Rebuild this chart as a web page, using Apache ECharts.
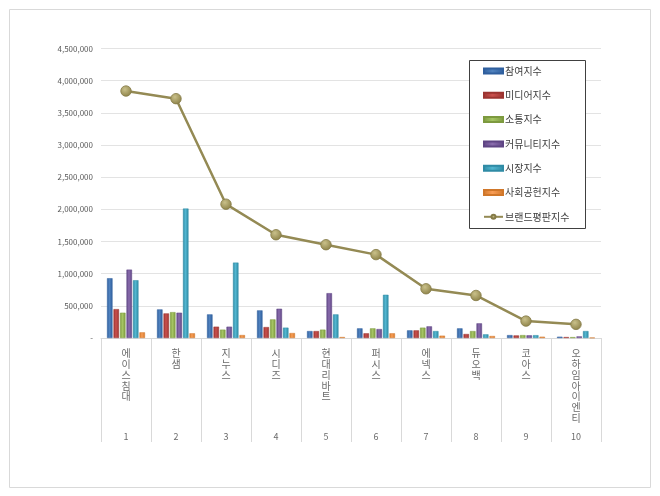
<!DOCTYPE html>
<html>
<head>
<meta charset="utf-8">
<script src="https://cdn.jsdelivr.net/npm/echarts@6/dist/echarts.min.js"></script>
<style>
html, body { margin: 0; padding: 0; background: #fff; }
#chart { width: 660px; height: 496px; }
</style>
</head>
<body>
<div id="chart"></div>
<script>
var categories = ['에이스침대', '한샘', '지누스', '시디즈', '현대리바트', '퍼시스', '에넥스', '듀오백', '코아스', '오하임아이엔티'];
var ranks = ['1', '2', '3', '4', '5', '6', '7', '8', '9', '10'];
var seriesNames = ['참여지수', '미디어지수', '소통지수', '커뮤니티지수', '시장지수', '사회공헌지수', '브랜드평판지수'];

var participation = [929000, 444000, 367000, 429000, 108000, 150000, 119000, 150000, 45000, 20000];
var media = [449000, 382000, 176000, 170000, 108000, 73000, 119000, 62000, 40000, 15000];
var communication = [393000, 402000, 130000, 289000, 130000, 150000, 161000, 108000, 45000, 14000];
var community = [1063000, 393000, 176000, 455000, 697000, 139000, 181000, 228000, 42000, 25000];
var market = [898000, 2012000, 1172000, 161000, 367000, 672000, 108000, 57000, 44000, 108000];
var social = [88000, 73000, 46000, 77000, 15000, 73000, 36000, 31000, 20000, 5000];
var brand = [3839000, 3720000, 2080000, 1605000, 1450000, 1296000, 765000, 661000, 263000, 212000];

(function () {
    var myChart = echarts.init(document.getElementById('chart'));
    var font = '"Noto Sans CJK KR", "Noto Sans", sans-serif';

    // edge / middle colours for the excel-like bars
    var barColors = [
        ['#2f5f9e', '#4f81bd'],
        ['#9c3431', '#c9504d'],
        ['#7d9a3f', '#a5c563'],
        ['#5f4584', '#8a6cad'],
        ['#2f8ba5', '#52b6d0'],
        ['#d0772a', '#f99d55']
    ];
    var barData = [participation, media, communication, community, market, social];

    var series = [];
    for (var i = 0; i < barData.length; i++) {
        series.push({
            name: seriesNames[i],
            type: 'bar',
            barWidth: 5.5,
            barGap: '18%',
            itemStyle: {
                color: new echarts.graphic.LinearGradient(0, 0, 1, 0, [
                    { offset: 0, color: barColors[i][0] },
                    { offset: 0.45, color: barColors[i][1] },
                    { offset: 1, color: barColors[i][0] }
                ]),
                borderColor: barColors[i][0],
                borderWidth: 0.5
            },
            data: barData[i]
        });
    }
    series.push({
        name: seriesNames[6],
        type: 'line',
        symbol: 'circle',
        symbolSize: 10.5,
        lineStyle: { color: '#948a54', width: 2.5 },
        itemStyle: {
            color: new echarts.graphic.RadialGradient(0.4, 0.35, 0.7, [
                { offset: 0, color: '#c9c08a' },
                { offset: 1, color: '#8a7f45' }
            ]),
            borderColor: '#857b48',
            borderWidth: 0.8
        },
        z: 5,
        data: brand
    });

    var option = {
        animation: false,
        color: ['#4f81bd', '#c0504d', '#9bbb59', '#8064a2', '#4bacc6', '#f79646', '#948a54'],
        textStyle: { fontFamily: font },
        graphic: [
            {
                type: 'rect',
                shape: { x: 9.5, y: 9.5, width: 641, height: 478 },
                style: { fill: 'none', stroke: '#d9d9d9', lineWidth: 1 },
                silent: true
            },
            {
                type: 'rect',
                shape: { x: 469.5, y: 60.5, width: 116, height: 168 },
                style: { fill: '#fff', stroke: '#404040', lineWidth: 1 },
                z: 1,
                silent: true
            }
        ],
        legend: {
            orient: 'vertical',
            left: 483,
            top: 65,
            padding: 0,
            itemWidth: 19,
            itemHeight: 5,
            itemGap: 12.3,
            z: 10,
            data: seriesNames.map(function (n, idx) {
                return idx < 6 ? { name: n, icon: 'rect' } : { name: n };
            }),
            textStyle: { fontSize: 10, lineHeight: 12, color: '#404040', padding: [0, 0, 0, -3] }
        },
        grid: {
            left: 101,
            right: 59,
            top: 48.5,
            bottom: 158
        },
        xAxis: [
            {
                type: 'category',
                data: categories,
                axisLine: { lineStyle: { color: '#d9d9d9', width: 1 } },
                axisTick: {
                    show: true,
                    length: 104,
                    lineStyle: { color: '#d9d9d9' }
                },
                axisLabel: {
                    interval: 0,
                    margin: 10,
                    fontSize: 10,
                    lineHeight: 10.8,
                    color: '#6b6b6b',
                    verticalAlign: 'top',
                    formatter: function (v) {
                        return v.split('').join('\n');
                    }
                }
            },
            {
                type: 'category',
                position: 'bottom',
                data: ranks,
                axisLine: { show: false },
                axisTick: { show: false },
                axisLabel: {
                    interval: 0,
                    margin: 94,
                    fontSize: 9,
                    color: '#6b6b6b'
                }
            }
        ],
        yAxis: {
            type: 'value',
            min: 0,
            max: 4500000,
            interval: 500000,
            axisLine: { show: false },
            axisTick: { show: false },
            splitLine: { lineStyle: { color: '#e3e3e3', width: 1 } },
            axisLabel: {
                margin: 8,
                fontSize: 8,
                color: '#595959',
                formatter: function (v) {
                    return v === 0 ? '-' : v.toLocaleString('en-US');
                }
            }
        },
        series: series
    };

    myChart.setOption(option);
    window.addEventListener('resize', function () {
        myChart.resize();
    });
})();
</script>
</body>
</html>
